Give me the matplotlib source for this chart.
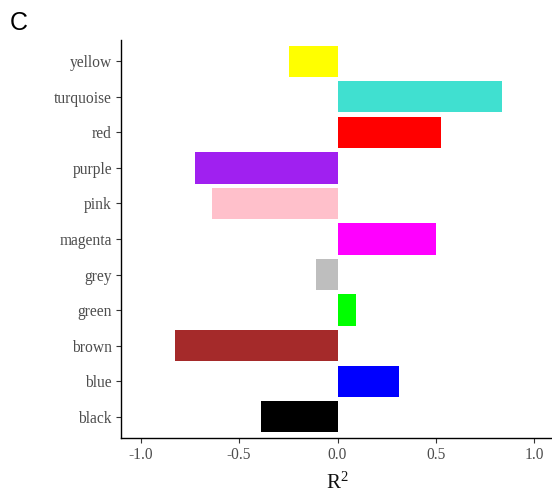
import matplotlib
matplotlib.use("Agg")
import matplotlib.pyplot as plt

categories = ["black", "blue", "brown", "green", "grey", "magenta",
              "pink", "purple", "red", "turquoise", "yellow"]
values = [-0.388, 0.314, -0.824, 0.093, -0.110, 0.501,
          -0.638, -0.726, 0.527, 0.834, -0.247]
bar_colors = ["#000000", "#0000FF", "#A52A2A", "#00FF00", "#BEBEBE", "#FF00FF",
              "#FFC0CB", "#A020F0", "#FF0000", "#40E0D0", "#FFFF00"]
x_ticks = [-1.0, -0.5, 0.0, 0.5, 1.0]
x_tick_labels = ["-1.0", "-0.5", "0.0", "0.5", "1.0"]

plt.rcParams["mathtext.fontset"] = "custom"
plt.rcParams["mathtext.rm"] = "Liberation Serif"
plt.rcParams["mathtext.it"] = "Liberation Serif:italic"

fig = plt.figure(figsize=(5.52, 4.93), dpi=100)
ax = fig.add_axes([121 / 552, (493 - 438) / 493, (554 - 121) / 552, (438 - 40) / 493])

pos = list(range(len(categories)))
ax.barh(pos, values, height=0.88, color=bar_colors, edgecolor="none")

ax.set_xlim(-1.1, 1.1)
ax.set_ylim(-0.6, len(categories) - 1 + 0.6)
ax.set_yticks(pos)
ax.set_yticklabels(categories)
ax.set_xticks(x_ticks)
ax.set_xticklabels(x_tick_labels)

for lab in ax.get_xticklabels() + ax.get_yticklabels():
    lab.set_family("Liberation Serif")
    lab.set_fontsize(11.2)
    lab.set_color("#4D4D4D")

ax.tick_params(axis="both", length=3.5, width=0.8, color="#333333", pad=3)
for s in ["top", "right"]:
    ax.spines[s].set_visible(False)
for s in ["left", "bottom"]:
    ax.spines[s].set_color("black")
    ax.spines[s].set_linewidth(1.0)

ax.set_xlabel(r"$\mathregular{R^2}$", fontsize=15, family="Liberation Serif",
              color="#111111", labelpad=7)

fig.text(10 / 552, 1 - 30 / 493, "C", fontsize=18, family="Liberation Sans",
         ha="left", va="baseline")

fig.savefig("out.png", dpi=100)
